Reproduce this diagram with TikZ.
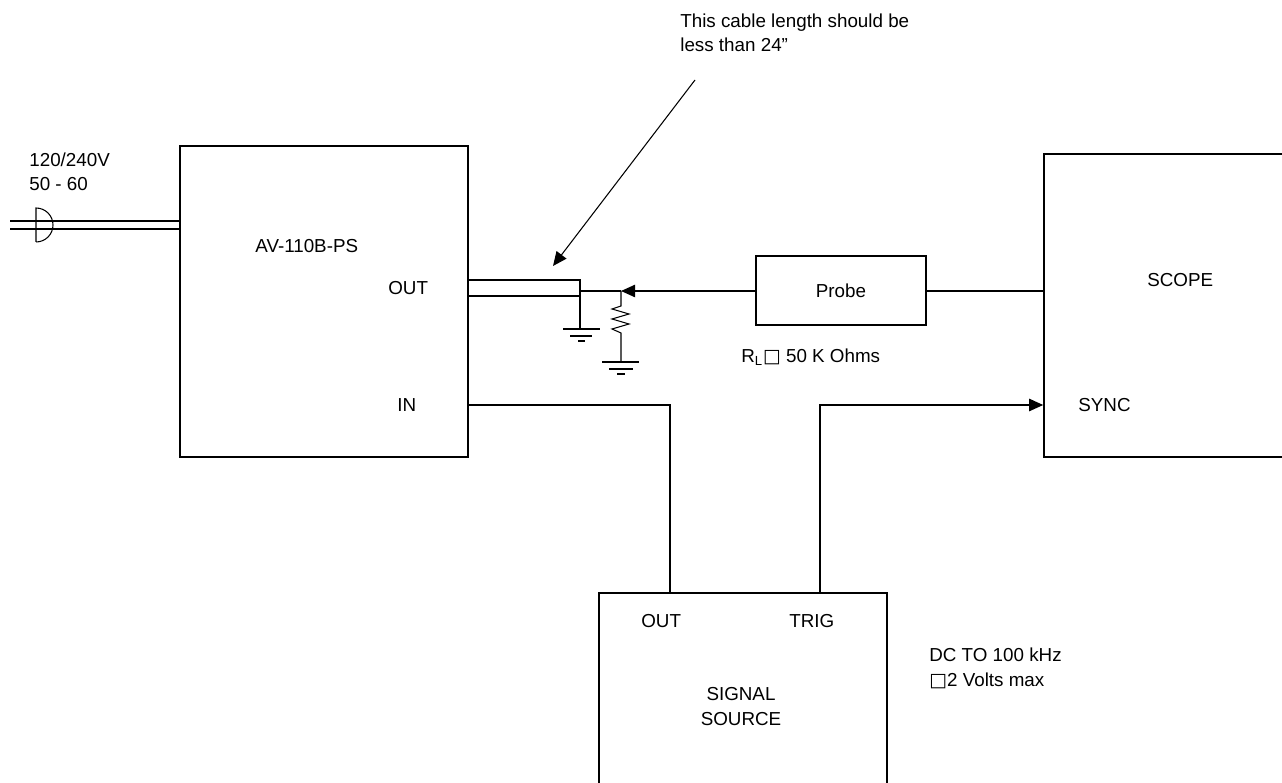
\documentclass[tikz,border=0pt]{standalone}
\usepackage{fontspec}
\setmainfont{Liberation Sans}
\newfontfamily\dvsans{DejaVu Sans}
\usetikzlibrary{arrows.meta,positioning}
\tikzset{
        x=0.02cm, y=-0.02cm, % one unit is one pixel of the sheet
        every node/.style={font=\fontsize{10.7}{14}\selectfont, inner sep=0pt},
        unit/.style={draw, line width=0.9pt, minimum width=5.76cm, minimum height=6.22cm},
        wire/.style={line width=0.9pt},
        tip/.style={-{Triangle[length=8pt,width=7pt]}},
        txt/.style={anchor=base west, align=left}, % base is the last line
}
\newcommand{\nobox}{{\dvsans\char"25A1}}

\begin{document}
\begin{tikzpicture}
\useasboundingbox (0,0) rectangle (1282,783);
% the blocks
\node[unit] (ps) at (324,301.5) {};
\node[unit, minimum width=6cm, minimum height=6.06cm] (scope) at (1194,305.5) {};
\node[unit, minimum height=6.14cm] (src) at (743,746.5) {};
\node[draw, line width=0.9pt, minimum width=3.4cm, minimum height=1.38cm] (probe) at (841,290.5) {Probe};

% labels in the blocks
\node[txt] at (255,253) {AV-110B-PS};
\node[txt] at (388,295) {OUT};
\node[txt] at (397,412) {IN};
\node[txt] at (1147,287) {SCOPE};
\node[txt] at (1078,412) {SYNC};
\node[txt] at (641,628) {OUT};
\node[txt] at (789,628) {TRIG};
\node[anchor=base, align=center] at (741,725) {SIGNAL\\SOURCE};

% mains plug
\node[txt] at (29,191) {120/240V\\50 - 60};
\draw[wire] (10,221) -- (ps.west |- 0,221);
\draw[wire] (10,229) -- (ps.west |- 0,229);
\draw[line width=0.6pt] (36,242) -- (36,208) arc (-90:90:17);

% short cable to the load
\coordinate (j) at (621,291);
\draw[wire] (ps.east |- 0,280) -- (580,280) -- (580,296) -- (ps.east |- 0,296);
\draw[wire] (580,291) -- (j);
\draw[wire, tip] (probe.west |- j) -- (j);
\draw[wire] (probe.east |- j) -- (scope.west |- j);

% grounds and load resistor
\draw[line width=0.6pt] (580,296) -- (580,329);
\draw[line width=0.6pt] (563,329) -- (600,329) (570,336) -- (592,336) (578,341) -- (585,341);
\draw[line width=0.6pt] (j) -- (621,306) -- (612,309) -- (629,314) -- (612,319) -- (629,324) -- (612,329) -- (621,333) -- (621,362);
\draw[line width=0.6pt] (602,362) -- (639,362) (609,369) -- (633,369) (617,374) -- (625,374);
\node[txt] at (741,363) {R\textsubscript{L}\nobox{} 50 K Ohms};

% signal paths
\draw[wire] (ps.east |- 0,405) -- (670,405) -- (670,593);
\draw[wire, tip] (820,593) -- (820,405) -- (scope.west |- 0,405);
\node[txt] at (929,686) {DC TO 100 kHz\\\nobox2 Volts max};

% note on the cable
\node[txt] (note) at (680,52) {This cable length should be\\less than 24”};
\draw[line width=0.6pt, tip] (695,80) -- (553,266);

\end{tikzpicture}
\end{document}
